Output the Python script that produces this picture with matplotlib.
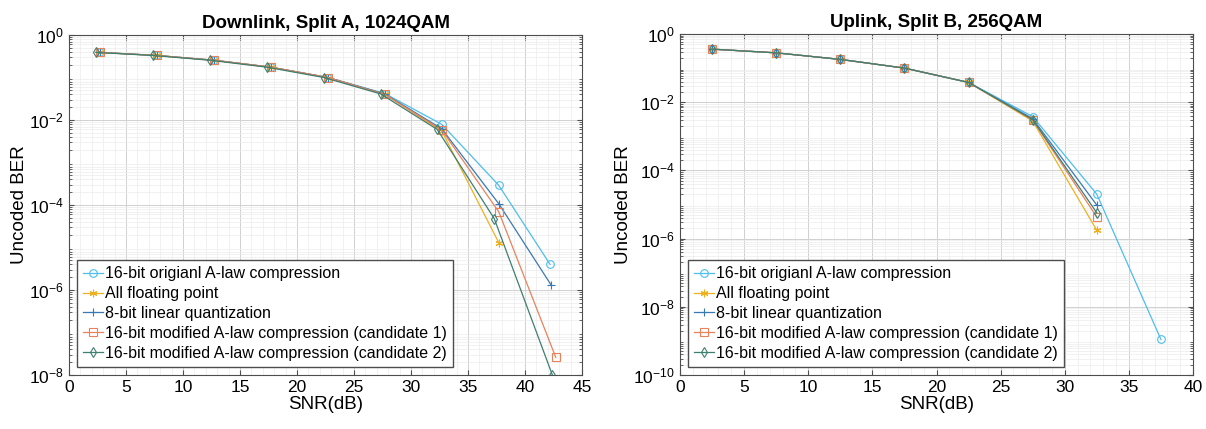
import matplotlib
matplotlib.use("Agg")
import matplotlib.pyplot as plt
from matplotlib.ticker import LogLocator, NullFormatter

plt.rcParams['font.family'] = ['Liberation Sans', 'DejaVu Sans']

labels = ['16-bit origianl A-law compression',
          'All floating point',
          '8-bit linear quantization',
          '16-bit modified A-law compression (candidate 1)',
          '16-bit modified A-law compression (candidate 2)']
colors = ['#4DBEEE', '#EDB120', '#3A78B5', '#E8825A', '#3F7F70']
markers = ['o', (6, 2, 0), '+', 's', 'd']

# Downlink, Split A, 1024QAM
dl_snr_orig = [2.7, 7.7, 12.7, 17.7, 22.7, 27.7, 32.7, 37.7, 42.2]
dl_ber_orig = [0.39, 0.33, 0.255, 0.175, 0.10, 0.042, 0.0079, 2.9e-4, 4.0e-6]
dl_snr_float = [2.7, 7.7, 12.7, 17.7, 22.7, 27.7, 32.7, 37.7]
dl_ber_float = [0.39, 0.33, 0.255, 0.175, 0.10, 0.040, 0.0055, 1.3e-5]
dl_snr_lin8 = [2.7, 7.7, 12.7, 17.7, 22.7, 27.7, 32.7, 37.7, 42.3]
dl_ber_lin8 = [0.39, 0.33, 0.255, 0.175, 0.10, 0.041, 0.0062, 1.07e-4, 1.3e-6]
dl_snr_cand1 = [2.7, 7.7, 12.7, 17.7, 22.7, 27.7, 32.7, 37.7, 42.7]
dl_ber_cand1 = [0.39, 0.33, 0.255, 0.175, 0.10, 0.040, 0.0058, 6.9e-5, 2.6e-8]
dl_snr_cand2 = [2.35, 7.35, 12.35, 17.35, 22.35, 27.35, 32.3, 37.3, 42.4]
dl_ber_cand2 = [0.39, 0.33, 0.255, 0.175, 0.10, 0.041, 0.006, 4.8e-5, 1.0e-8]

# Uplink, Split B, 256QAM
ul_snr_orig = [2.5, 7.5, 12.5, 17.5, 22.5, 27.5, 32.5, 37.5]
ul_ber_orig = [0.36, 0.28, 0.18, 0.10, 0.038, 0.0038, 2.0e-5, 1.1e-9]
ul_snr_float = [2.5, 7.5, 12.5, 17.5, 22.5, 27.5, 32.5]
ul_ber_float = [0.36, 0.28, 0.18, 0.10, 0.038, 0.0028, 1.75e-6]
ul_snr_lin8 = [2.5, 7.5, 12.5, 17.5, 22.5, 27.5, 32.5]
ul_ber_lin8 = [0.36, 0.28, 0.18, 0.10, 0.038, 0.0033, 9.6e-6]
ul_snr_cand1 = [2.5, 7.5, 12.5, 17.5, 22.5, 27.5, 32.5]
ul_ber_cand1 = [0.36, 0.28, 0.18, 0.10, 0.038, 0.0030, 4.3e-6]
ul_snr_cand2 = [2.5, 7.5, 12.5, 17.5, 22.5, 27.5, 32.5]
ul_ber_cand2 = [0.36, 0.28, 0.18, 0.10, 0.038, 0.0031, 5.7e-6]

dl = [(dl_snr_orig, dl_ber_orig), (dl_snr_float, dl_ber_float), (dl_snr_lin8, dl_ber_lin8),
      (dl_snr_cand1, dl_ber_cand1), (dl_snr_cand2, dl_ber_cand2)]
ul = [(ul_snr_orig, ul_ber_orig), (ul_snr_float, ul_ber_float), (ul_snr_lin8, ul_ber_lin8),
      (ul_snr_cand1, ul_ber_cand1), (ul_snr_cand2, ul_ber_cand2)]

W, H = 1206, 429
fig = plt.figure(figsize=(W / 100, H / 100), dpi=100)
ax1 = fig.add_axes([69 / W, (H - 375) / H, 513 / W, 340 / H])
ax2 = fig.add_axes([680 / W, (H - 375) / H, 513 / W, 341 / H])


def draw(ax, series, title, xmax, ymin, yticks):
    for (x, y), c, m, lab in zip(series, colors, markers, labels):
        ax.semilogy(x, y, color=c, marker=m, ms=5.5, mfc='none', mew=0.8,
                    lw=0.9, label=lab)
    ax.set_xlim(0, xmax)
    ax.set_ylim(ymin, 1)
    ax.set_xticks(range(0, xmax + 1, 5))
    ax.set_yticks(yticks)
    ax.yaxis.set_minor_locator(LogLocator(base=10, subs=range(2, 10), numticks=50))
    ax.yaxis.set_minor_formatter(NullFormatter())
    ax.set_xticks([x + 1 for x in range(0, xmax, 1) if (x + 1) % 5], minor=True)
    ax.grid(True, which='major', color='#d0d0d0', lw=0.7)
    ax.grid(True, which='minor', color='#ececec', lw=0.5)
    ax.set_axisbelow(True)
    ax.tick_params(which='both', direction='in', top=True, right=True, labelsize=12.5,
                   color='#4d4d4d')
    ax.tick_params(axis='x', which='minor', length=0)
    for s in ax.spines.values():
        s.set_color('#4d4d4d')
        s.set_linewidth(0.8)
    ax.set_title(title, fontsize=13.5, fontweight='bold', pad=5)
    ax.set_xlabel('SNR(dB)', fontsize=13.5, labelpad=1)
    ax.set_ylabel('Uncoded BER', fontsize=13.5, labelpad=1)
    ax.legend(loc='lower left', fontsize=11.5, handlelength=1.2, handletextpad=0.15,
              labelspacing=0.3, borderpad=0.4, fancybox=False, framealpha=1,
              edgecolor='#4d4d4d', borderaxespad=0.5)


draw(ax1, dl, 'Downlink, Split A, 1024QAM', 45, 1e-8, [1e-8, 1e-6, 1e-4, 1e-2, 1])
draw(ax2, ul, 'Uplink, Split B, 256QAM', 40, 1e-10, [1e-10, 1e-8, 1e-6, 1e-4, 1e-2, 1])

fig.savefig('out.png', dpi=100)
